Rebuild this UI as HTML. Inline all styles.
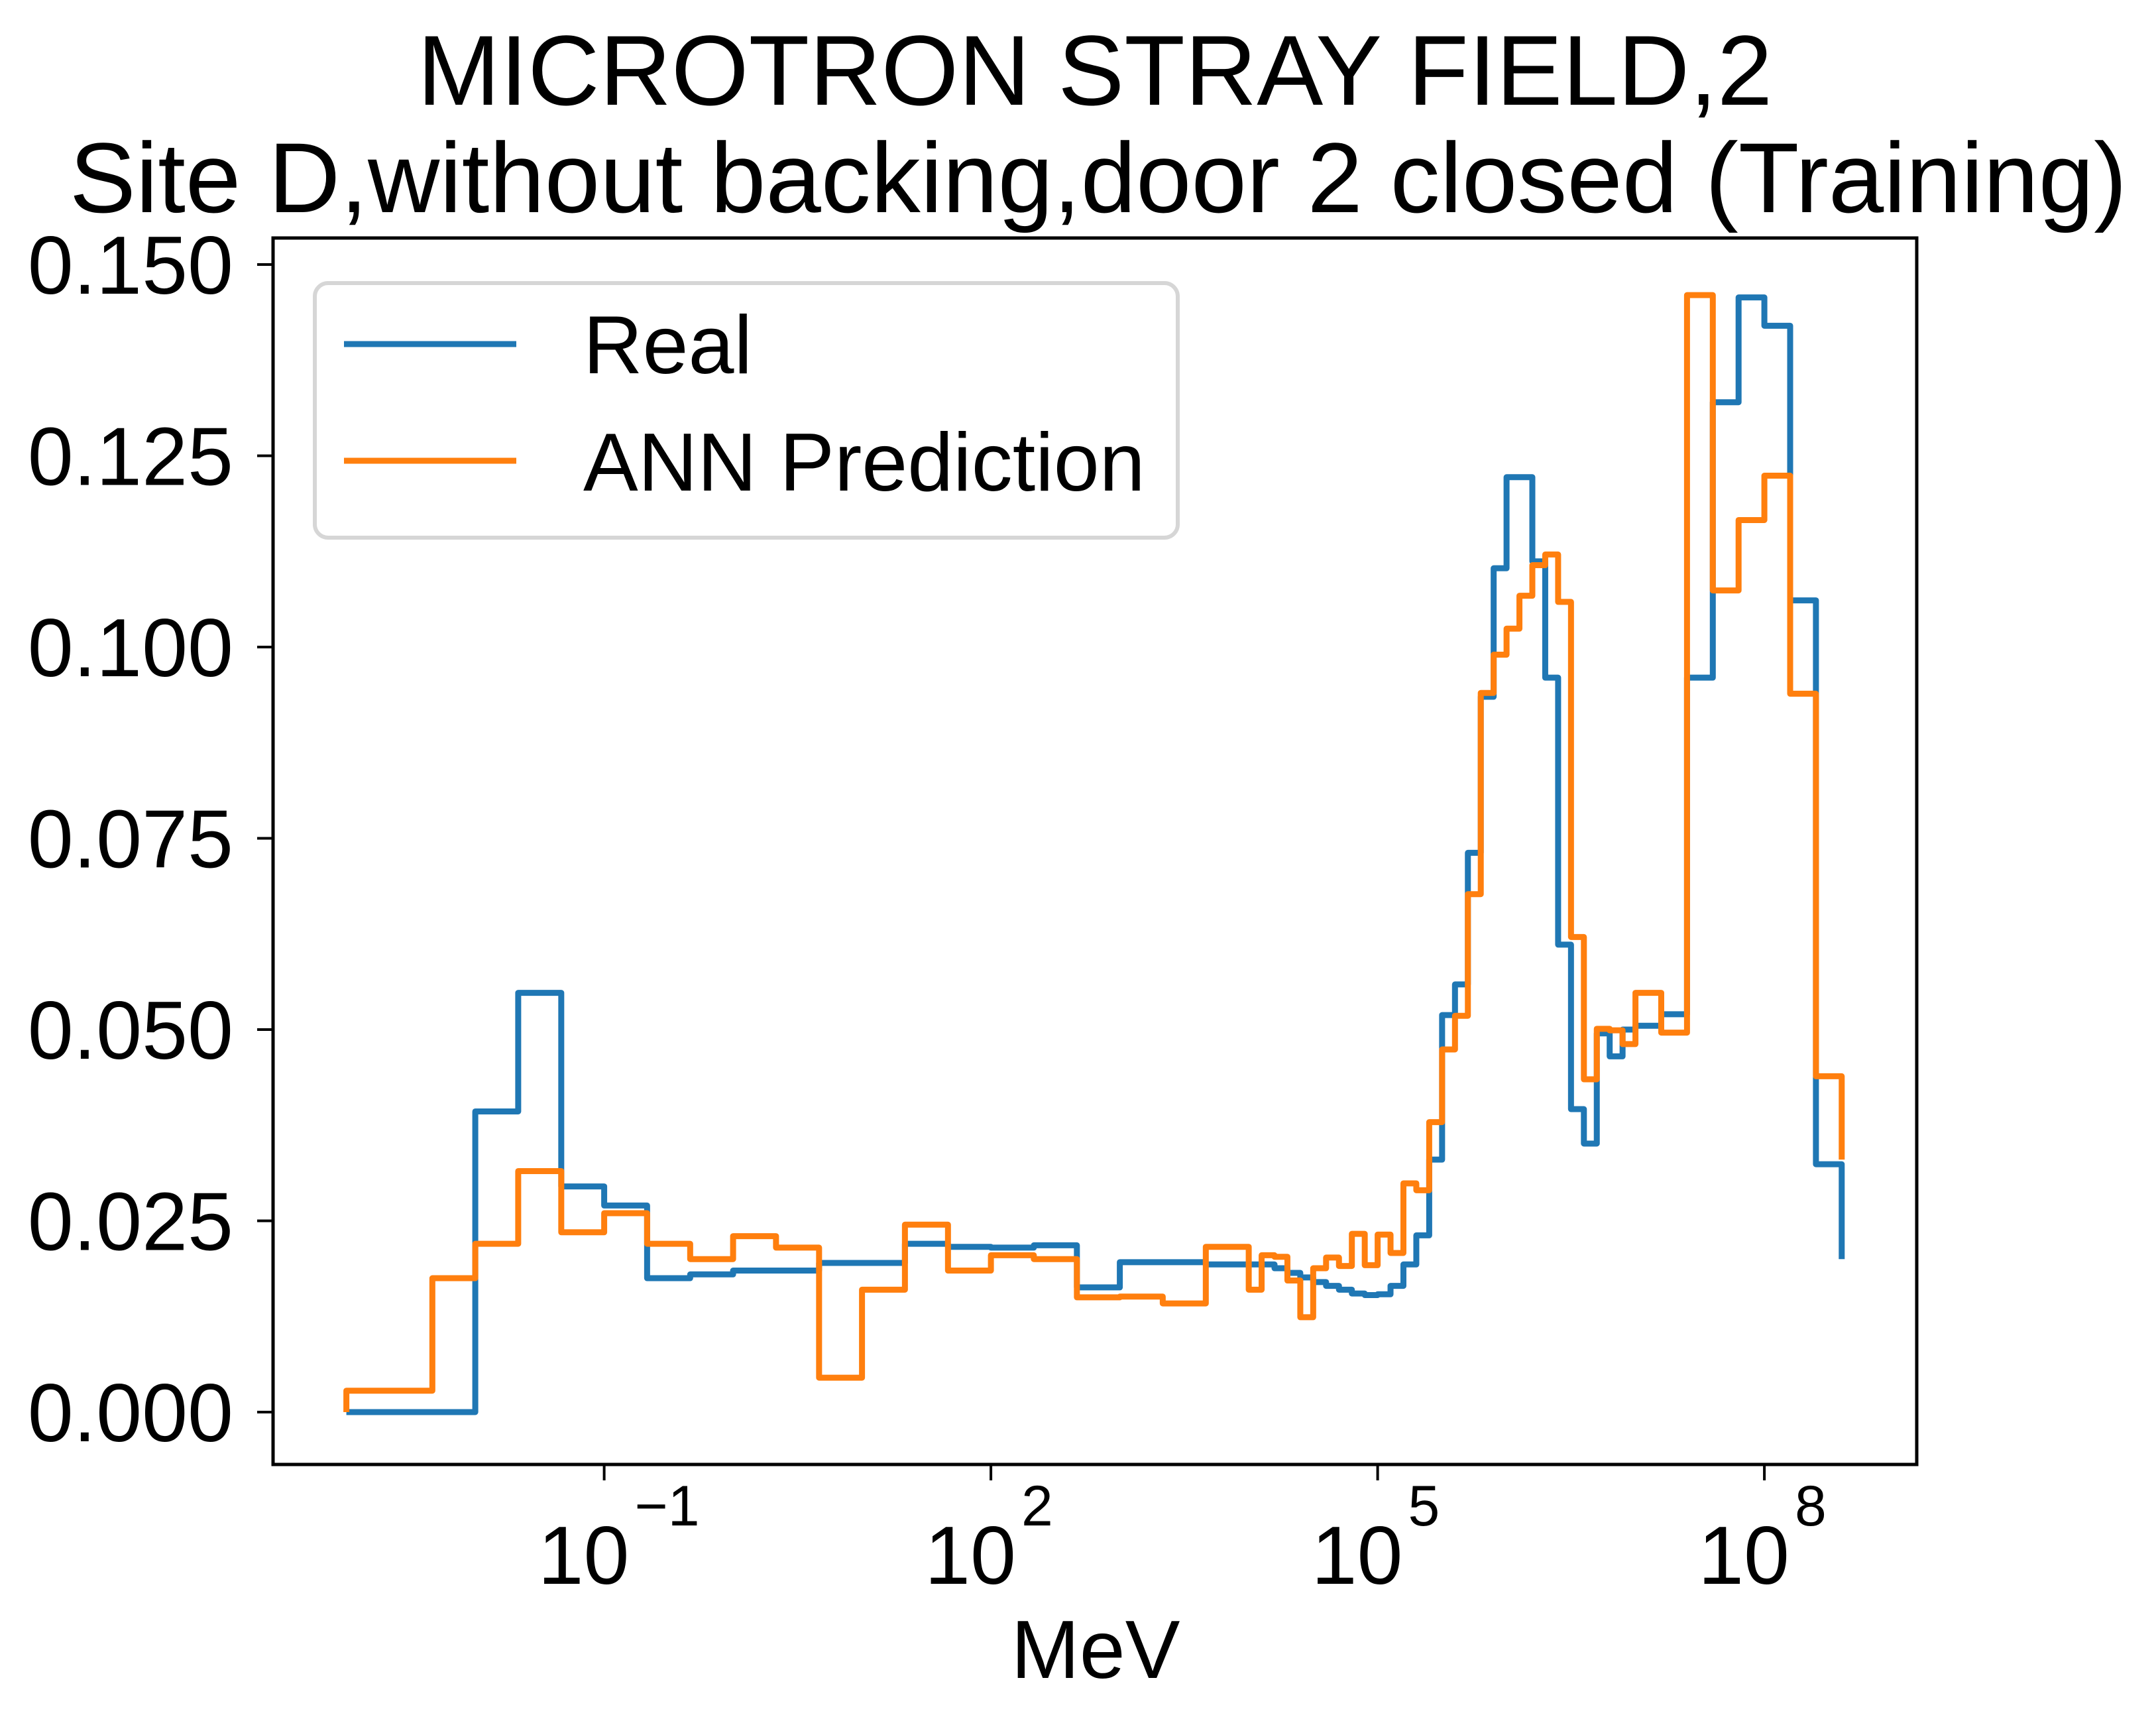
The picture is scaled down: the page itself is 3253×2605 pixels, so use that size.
<!DOCTYPE html>
<html>
<head>
<meta charset="utf-8">
<style>
  html,body{margin:0;padding:0;background:#fff;}
  svg{display:block;}
  text{font-family:"Liberation Sans",Arial,sans-serif;fill:#000;}
</style>
</head>
<body>
<svg id="chart" width="3253" height="2605" viewBox="0 0 3253 2605" xmlns="http://www.w3.org/2000/svg">
  <rect x="0" y="0" width="3253" height="2605" fill="#fff"/>
  <text x="1652" y="158" font-size="150" text-anchor="middle">MICROTRON STRAY FIELD,2</text>
  <text x="1657" y="320" font-size="150" text-anchor="middle">Site D,without backing,door 2 closed (Training)</text>
  <g id="plot"></g>
  <g id="axes"></g>
  <g>
    <rect x="475" y="427" width="1302" height="384" rx="20" ry="20" fill="#fff" fill-opacity="0.8" stroke="#d6d6d6" stroke-width="6"/>
    <line x1="519" y1="519" x2="779" y2="519" stroke="#1f77b4" stroke-width="9"/>
    <text x="880" y="563" font-size="124">Real</text>
    <line x1="519" y1="695" x2="779" y2="695" stroke="#ff7f0e" stroke-width="9"/>
    <text x="880" y="740" font-size="124">ANN Prediction</text>
  </g>
</svg>
<script>
// ---- data (log10 of MeV bin edges and bin values) ----
const realEdges = [-3,-2,-1.667,-1.333,-1,-0.667,-0.333,0,0.667,1.333,1.667,2,2.333,2.667,3,3.667,4,4.2,4.3,4.4,4.5,4.6,4.7,4.8,4.9,5.0,5.1,5.2,5.3,5.4,5.5,5.6,5.7,5.8,5.9,6.0,6.2,6.3,6.4,6.5,6.6,6.7,6.8,6.9,7.0,7.2,7.4,7.6,7.8,8.0,8.2,8.4,8.6];
const realValues = [0,0.0393,0.0548,0.0295,0.027,0.0175,0.018,0.0185,0.0195,0.022,0.0216,0.0215,0.0218,0.0163,0.0196,0.0193,0.0193,0.0188,0.0182,0.0176,0.017,0.0165,0.016,0.0155,0.0153,0.0154,0.0165,0.0193,0.0231,0.033,0.0519,0.0559,0.0731,0.0935,0.1103,0.1222,0.1112,0.096,0.0611,0.0396,0.0351,0.0495,0.0465,0.05,0.0505,0.052,0.096,0.132,0.1457,0.142,0.1061,0.0324];
const realStart = 0;
const realEnd = 0.020;

const predEdges = [-3,-2.333,-2,-1.667,-1.333,-1,-0.667,-0.333,0,0.333,0.667,1,1.333,1.667,2,2.333,2.667,3,3.333,3.667,4,4.1,4.2,4.3,4.4,4.5,4.6,4.7,4.8,4.9,5.0,5.1,5.2,5.3,5.4,5.5,5.6,5.7,5.8,5.9,6.0,6.1,6.2,6.3,6.4,6.5,6.6,6.7,6.8,6.9,7.0,7.2,7.4,7.6,7.8,8.0,8.2,8.4,8.6];
const predValues = [0.0028,0.0175,0.022,0.0315,0.0235,0.026,0.022,0.020,0.023,0.0215,0.0045,0.016,0.0245,0.0185,0.0205,0.020,0.015,0.0151,0.0142,0.0216,0.016,0.0205,0.0203,0.0172,0.0124,0.0188,0.0202,0.0191,0.0233,0.0192,0.0232,0.0208,0.0299,0.029,0.0379,0.0474,0.0518,0.0677,0.094,0.099,0.1024,0.1067,0.1107,0.1121,0.1059,0.0621,0.0435,0.0501,0.0499,0.0481,0.0548,0.0496,0.146,0.1074,0.1166,0.1224,0.0939,0.0439];
const predStart = 0;
const predEnd = 0.033;

const yTickValues = [0, 0.025, 0.05, 0.075, 0.1, 0.125, 0.15];
const yTickLabels = ["0.000","0.025","0.050","0.075","0.100","0.125","0.150"];
const xTickExps = [-1, 2, 5, 8];
const xTickLabels = ["\u22121","2","5","8"];

// ---- axis functions ----
const AX = {left:412, right:2892, top:359, bottom:2209};
function xScale(logv){ return 2078.6 + (logv - 5) * 194.5; }
function yScale(v){ return 2130 - v / 0.15 * 1731; }

const NS = "http://www.w3.org/2000/svg";
const plot = document.getElementById('plot');
const axes = document.getElementById('axes');

function stepPath(edges, values, start, end){
  let d = "M" + xScale(edges[0]).toFixed(2) + "," + yScale(start).toFixed(2);
  for (let i = 0; i < values.length; i++){
    d += " L" + xScale(edges[i]).toFixed(2) + "," + yScale(values[i]).toFixed(2);
    d += " L" + xScale(edges[i+1]).toFixed(2) + "," + yScale(values[i]).toFixed(2);
  }
  d += " L" + xScale(edges[edges.length-1]).toFixed(2) + "," + yScale(end).toFixed(2);
  return d;
}

const pReal = document.createElementNS(NS,'path');


pReal.setAttribute('d', stepPath(realEdges, realValues, realStart, realEnd));
pReal.setAttribute('fill','none');
pReal.setAttribute('stroke','#1f77b4');
pReal.setAttribute('stroke-width','9');
pReal.setAttribute('stroke-linejoin','round');
plot.appendChild(pReal);

const pPred = document.createElementNS(NS,'path');


pPred.setAttribute('d', stepPath(predEdges, predValues, predStart, predEnd));
pPred.setAttribute('fill','none');
pPred.setAttribute('stroke','#ff7f0e');
pPred.setAttribute('stroke-width','9');
pPred.setAttribute('stroke-linejoin','round');
plot.appendChild(pPred);

// frame
const frame = document.createElementNS(NS,'rect');


frame.setAttribute('x', AX.left);
frame.setAttribute('y', AX.top);
frame.setAttribute('width', AX.right - AX.left);
frame.setAttribute('height', AX.bottom - AX.top);
frame.setAttribute('fill','none');
frame.setAttribute('stroke','#000');
frame.setAttribute('stroke-width','5');
axes.appendChild(frame);

// y ticks
for (let i = 0; i < yTickValues.length; i++){
  const y = yScale(yTickValues[i]);
  const t = document.createElementNS(NS,'line');
  
  
  t.setAttribute('x1', AX.left - 24); t.setAttribute('x2', AX.left);
  t.setAttribute('y1', y); t.setAttribute('y2', y);
  t.setAttribute('stroke','#000'); t.setAttribute('stroke-width','4');
  axes.appendChild(t);
  const lb = document.createElementNS(NS,'text');
  
  
  lb.setAttribute('x', 352); lb.setAttribute('y', y + 44);
  lb.setAttribute('font-size','124'); lb.setAttribute('text-anchor','end');
  lb.textContent = yTickLabels[i];
  axes.appendChild(lb);
}

// x ticks
for (let i = 0; i < xTickExps.length; i++){
  const x = xScale(xTickExps[i]);
  const t = document.createElementNS(NS,'line');
  
  
  t.setAttribute('x1', x); t.setAttribute('x2', x);
  t.setAttribute('y1', AX.bottom); t.setAttribute('y2', AX.bottom + 24);
  t.setAttribute('stroke','#000'); t.setAttribute('stroke-width','4');
  axes.appendChild(t);
  const lb = document.createElementNS(NS,'text');
  
  
  lb.setAttribute('x', x - 100); lb.setAttribute('y', 2389);
  lb.setAttribute('font-size','124');
  lb.textContent = "10";
  const sup = document.createElementNS(NS,'tspan');
  sup.setAttribute('font-size','86');
  sup.setAttribute('dy','-88');
  sup.setAttribute('dx','8');
  sup.textContent = xTickLabels[i];
  lb.appendChild(sup);
  axes.appendChild(lb);
}

const xt = document.createElementNS(NS,'text');


xt.setAttribute('x', 1653); xt.setAttribute('y', 2531);
xt.setAttribute('font-size','124'); xt.setAttribute('text-anchor','middle');
xt.textContent = "MeV";
axes.appendChild(xt);
</script>
</body>
</html>
